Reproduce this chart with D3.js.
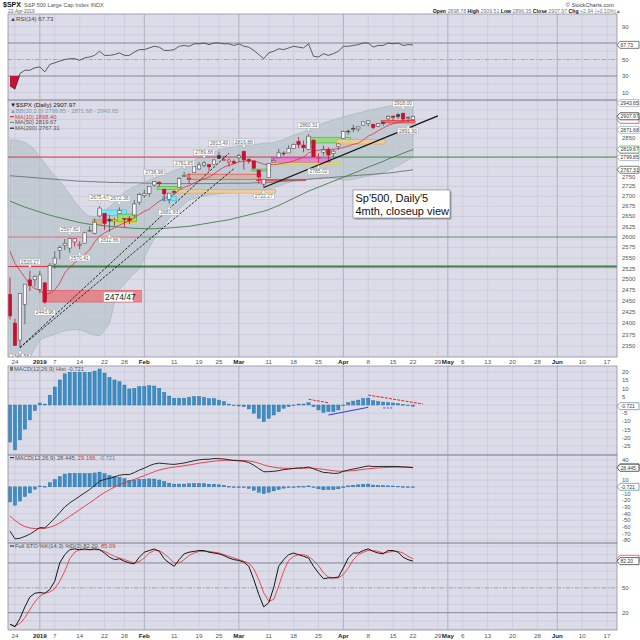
<!DOCTYPE html>
<html>
<head>
<meta charset="utf-8">
<title>$SPX daily</title>
<script src="https://cdn.jsdelivr.net/npm/d3@7"></script>
<style>
  body { margin: 0; background: #fff; }
  svg { display: block; font-family: "Liberation Sans", Arial, sans-serif; }
</style>
</head>
<body>
<svg id="chart"></svg>
<script>
// ---- data (trading days from 21-Dec-2018 to 22-Apr-2019) ----
var firstDay = "2018-12-21", lastDay = "2019-06-22";
var holidays = ["2018-12-25", "2019-01-01", "2019-01-21", "2019-02-18", "2019-04-19", "2019-05-27"];

var opens = [2465.38, 2400.56, 2363.12, 2442.50, 2498.77, 2498.94, 2476.96, 2491.92, 2474.33, 2535.61,
  2568.11, 2580.00, 2573.51, 2588.11, 2580.31, 2585.10, 2614.75, 2609.28, 2651.27, 2657.88,
  2643.48, 2638.84, 2657.44, 2644.97, 2644.89, 2653.62, 2685.49, 2702.32, 2706.49, 2728.34,
  2735.05, 2717.53, 2692.36, 2712.40, 2722.61, 2750.30, 2743.50, 2760.24, 2769.28, 2779.05,
  2780.24, 2780.67, 2804.35, 2792.36, 2787.50, 2788.11, 2798.22, 2814.37, 2794.41, 2790.27,
  2766.53, 2730.79, 2747.61, 2787.34, 2799.78, 2810.38, 2810.79, 2822.61, 2840.76, 2831.34,
  2819.72, 2844.52, 2796.01, 2812.66, 2819.72, 2809.40, 2828.27, 2848.63, 2868.24, 2876.09,
  2873.99, 2884.16, 2888.46, 2886.58, 2881.37, 2891.92, 2900.86, 2908.32, 2912.26, 2916.04,
  2904.81, 2898.78];
var highs = [2504.41, 2410.34, 2467.76, 2489.10, 2520.27, 2509.24, 2519.49, 2493.14, 2538.07, 2566.16,
  2579.82, 2595.32, 2597.82, 2596.27, 2589.32, 2613.08, 2625.76, 2645.06, 2675.47, 2657.88,
  2653.19, 2647.20, 2672.38, 2644.97, 2650.93, 2690.44, 2708.95, 2716.66, 2724.99, 2738.98,
  2738.08, 2719.32, 2708.07, 2718.05, 2748.19, 2761.85, 2757.90, 2775.66, 2787.33, 2789.88,
  2781.58, 2794.20, 2813.49, 2803.12, 2795.76, 2793.73, 2808.02, 2816.88, 2796.44, 2790.27,
  2766.53, 2744.13, 2784.00, 2798.32, 2821.24, 2815.00, 2830.73, 2835.41, 2852.42, 2843.54,
  2860.31, 2846.16, 2809.79, 2829.87, 2825.56, 2819.71, 2836.03, 2869.40, 2872.90, 2885.25,
  2881.28, 2893.24, 2895.95, 2886.88, 2889.71, 2893.42, 2910.54, 2909.60, 2916.06, 2918.00,
  2908.40, 2909.51];
var lows = [2408.55, 2351.10, 2346.58, 2397.94, 2472.89, 2482.82, 2467.47, 2443.96, 2474.33, 2524.56,
  2547.56, 2568.89, 2562.02, 2577.40, 2570.41, 2585.10, 2612.68, 2606.36, 2647.58, 2617.27,
  2612.86, 2627.01, 2657.33, 2624.06, 2631.05, 2648.34, 2678.65, 2696.88, 2698.75, 2724.03,
  2724.15, 2687.26, 2681.83, 2703.79, 2722.61, 2748.63, 2731.23, 2760.24, 2767.29, 2774.06,
  2764.55, 2779.11, 2794.99, 2789.47, 2775.13, 2782.51, 2787.38, 2767.66, 2782.97, 2768.69,
  2732.08, 2722.27, 2747.61, 2786.73, 2799.78, 2803.46, 2810.79, 2821.99, 2823.27, 2812.43,
  2817.38, 2800.47, 2785.02, 2803.99, 2787.72, 2798.77, 2819.23, 2848.63, 2858.75, 2865.17,
  2867.14, 2882.99, 2880.78, 2873.33, 2879.13, 2881.99, 2898.37, 2896.48, 2900.71, 2895.45,
  2891.90, 2896.35];
var closes = [2416.62, 2351.10, 2467.70, 2488.83, 2485.74, 2506.85, 2510.03, 2447.89, 2531.94, 2549.69,
  2574.41, 2584.96, 2596.64, 2596.26, 2582.61, 2610.30, 2616.10, 2635.96, 2670.71, 2632.90,
  2638.70, 2642.33, 2664.76, 2643.85, 2640.00, 2681.05, 2704.10, 2706.53, 2724.87, 2737.70,
  2731.61, 2706.05, 2707.88, 2709.80, 2744.73, 2753.03, 2745.73, 2775.60, 2779.76, 2784.70,
  2774.88, 2792.67, 2796.11, 2793.90, 2792.38, 2784.49, 2803.69, 2792.81, 2789.65, 2771.45,
  2748.93, 2743.07, 2783.30, 2791.52, 2810.92, 2808.48, 2822.48, 2832.94, 2832.57, 2824.23,
  2854.88, 2800.71, 2798.36, 2818.46, 2805.37, 2815.44, 2834.40, 2867.19, 2867.24, 2873.40,
  2879.39, 2892.74, 2895.77, 2878.20, 2888.21, 2888.32, 2907.41, 2905.58, 2907.06, 2900.45,
  2905.03, 2907.97];

var ma10 = [2565.9, 2537.3, 2520.3, 2504.1, 2487.6, 2478.3, 2474.7, 2464.9, 2467.4, 2475.6,
  2491.4, 2514.8, 2527.7, 2538.4, 2548.1, 2558.5, 2569.1, 2587.9, 2601.8, 2610.1,
  2616.5, 2622.3, 2629.1, 2633.8, 2639.6, 2646.6, 2655.4, 2662.5, 2667.9, 2678.4,
  2687.7, 2694.1, 2698.4, 2705.0, 2715.4, 2722.6, 2726.8, 2733.7, 2739.2, 2743.9,
  2748.2, 2756.9, 2765.7, 2774.1, 2778.9, 2782.0, 2787.8, 2789.5, 2790.5, 2789.2,
  2786.6, 2781.6, 2780.4, 2780.1, 2782.0, 2784.4, 2786.3, 2790.3, 2794.6, 2799.8,
  2810.4, 2816.2, 2817.7, 2820.4, 2819.8, 2820.5, 2821.7, 2825.2, 2828.6, 2833.5,
  2836.0, 2845.2, 2854.9, 2860.9, 2869.2, 2876.5, 2883.8, 2887.6, 2891.6, 2894.3,
  2896.9, 2898.4];
var ma50 = [2688, 2683, 2678, 2673, 2669, 2665, 2661, 2657, 2653, 2650,
  2647, 2644, 2641, 2638, 2635, 2633, 2631, 2630, 2629, 2627,
  2626, 2625, 2624, 2623, 2622, 2621, 2621, 2620, 2620, 2620,
  2621, 2621, 2622, 2623, 2624, 2625, 2626, 2628, 2630, 2632,
  2634, 2636, 2638, 2640, 2642, 2645, 2648, 2651, 2654, 2657,
  2660, 2663, 2667, 2672, 2677, 2683, 2689, 2695, 2701, 2707,
  2713, 2718, 2723, 2728, 2733, 2738, 2743, 2748, 2753, 2758,
  2763, 2769, 2774, 2779, 2784, 2789, 2795, 2800, 2805, 2810,
  2815, 2819.67];
var ma200 = [2752, 2751, 2750, 2749, 2748, 2747, 2746, 2745, 2744, 2743,
  2742, 2741, 2740, 2739, 2738, 2738, 2737, 2737, 2736, 2736,
  2735, 2735, 2735, 2734, 2734, 2734, 2734, 2733, 2733, 2733,
  2732, 2732, 2732, 2732, 2732, 2732, 2732, 2732, 2732, 2732,
  2732, 2732, 2732, 2733, 2733, 2733, 2733, 2733, 2733, 2734,
  2734, 2734, 2735, 2736, 2737, 2738, 2739, 2740, 2741, 2742,
  2743, 2744, 2745, 2746, 2747, 2748, 2749, 2750, 2751, 2752,
  2753, 2754, 2755, 2756, 2757, 2758, 2759, 2760, 2762, 2764,
  2765, 2767.31];
var bbUpper = [2845, 2845, 2842, 2838, 2830, 2818, 2800, 2785, 2767, 2752,
  2738, 2722, 2705, 2688, 2671, 2660, 2651, 2650, 2654, 2664,
  2673, 2686, 2698, 2710, 2718, 2724, 2730, 2736, 2742, 2746,
  2750, 2755, 2760, 2765, 2770, 2776, 2784, 2792, 2798, 2804,
  2809, 2813, 2818, 2822, 2824, 2826, 2828, 2830, 2831, 2833,
  2834, 2836, 2837, 2838, 2842, 2846, 2852, 2858, 2862, 2866,
  2874, 2880, 2885, 2890, 2894, 2898, 2902, 2906, 2910, 2914,
  2917, 2920, 2924, 2927, 2929, 2932, 2935, 2937, 2939, 2941,
  2942, 2943.65];
var bbLower = [2300, 2295, 2300, 2310, 2325, 2345, 2362, 2368, 2372, 2376,
  2380, 2383, 2385, 2386, 2385, 2382, 2378, 2374, 2373, 2385,
  2401, 2446, 2475, 2490, 2502, 2514, 2525, 2550, 2575, 2595,
  2612, 2630, 2645, 2658, 2670, 2680, 2690, 2694, 2698, 2701,
  2703, 2705, 2706, 2708, 2710, 2712, 2714, 2715, 2716, 2716,
  2716, 2716, 2718, 2722, 2726, 2731, 2735, 2738, 2740, 2742,
  2744, 2745, 2746, 2746, 2746, 2745, 2743, 2741, 2741, 2743,
  2746, 2749, 2752, 2754, 2756, 2760, 2766, 2772, 2778, 2785,
  2792, 2799.85];

var rsi = [18, 14, 33, 37, 37, 40, 41, 35, 44, 46,
  48, 50, 51, 51, 49, 52, 53, 55, 60, 55,
  55, 56, 58, 55, 55, 59, 62, 62, 64, 66,
  65, 61, 61, 62, 66, 67, 66, 69, 69, 70,
  68, 70, 70, 69, 69, 67, 69, 66, 65, 61,
  56, 51, 58, 60, 63, 62, 64, 66, 65, 64,
  69, 54, 53, 57, 55, 57, 60, 66, 66, 67,
  68, 70, 70, 65, 67, 67, 70, 69, 70, 67,
  68, 67.73];
var macdLine = [-66.0, -77.65, -76.9, -74.0, -70.65, -65.9, -60.9, -61.35, -54.45, -46.7,
  -38.6, -30.1, -24.1, -19.1, -14.1, -9.1, -4.1, 1.8, 8.6, 11.0,
  12.6, 14.8, 17.25, 18.3, 18.35, 21.3, 25.1, 27.9, 31.45, 34.15,
  35.3, 34.7, 33.9, 33.5, 34.5, 35.55, 37.3, 39.0, 40.3, 41.05,
  41.2, 42.2, 42.05, 41.55, 40.3, 39.3, 38.85, 38.2, 36.2, 32.35,
  27.2, 22.55, 22.6, 23.1, 24.1, 25.7, 26.45, 27.45, 28.2, 28.35,
  29.5, 26.85, 24.1, 21.5, 21.0, 20.0, 20.25, 23.25, 25.0, 26.6,
  27.95, 29.7, 31.15, 30.2, 30.35, 30.4, 30.45, 30.45, 30.25, 29.7,
  29.35, 28.445];
var macdSignal = [-43.4, -50.25, -55.6, -59.3, -61.55, -62.4, -62.1, -61.95, -60.45, -57.7,
  -53.9, -49.1, -44.1, -39.1, -34.1, -29.1, -24.1, -18.9, -13.4, -8.5,
  -4.3, -0.5, 3.05, 6.1, 8.55, 11.1, 13.9, 16.7, 19.65, 22.55,
  25.1, 27.0, 28.4, 29.4, 30.4, 31.45, 32.6, 33.9, 35.2, 36.35,
  37.3, 38.3, 39.05, 39.55, 39.7, 39.6, 39.45, 39.2, 38.6, 37.35,
  35.3, 32.75, 30.7, 29.2, 28.2, 27.7, 27.45, 27.45, 27.6, 27.75,
  28.1, 27.85, 27.1, 26.0, 25.0, 24.0, 23.25, 23.25, 23.6, 24.2,
  24.95, 25.9, 26.95, 27.6, 28.15, 28.6, 28.95, 29.25, 29.45, 29.4,
  29.35, 29.166];
var macdHist = [-22.6, -27.4, -21.3, -14.7, -9.1, -3.5, 1.2, 0.6, 6, 11,
  15.3, 19, 20, 20, 20, 20, 20, 20.7, 22, 19.5,
  16.9, 15.3, 14.2, 12.2, 9.8, 10.2, 11.2, 11.2, 11.8, 11.6,
  10.2, 7.7, 5.5, 4.1, 4.1, 4.1, 4.7, 5.1, 5.1, 4.7,
  3.9, 3.9, 3, 2, 0.6, -0.3, -0.6, -1, -2.4, -5,
  -8.1, -10.2, -8.1, -6.1, -4.1, -2, -1, 0, 0.6, 0.6,
  1.4, -1, -3, -4.5, -4, -4, -3, 0, 1.4, 2.4,
  3.0, 3.8, 4.2, 2.6, 2.2, 1.8, 1.5, 1.2, 0.8, 0.3,
  0, -0.721];
var stoK = [6, 3, 13, 27, 39, 43.5, 44.3, 43.5, 48, 58,
  80, 90, 96, 97, 96, 97, 96, 97, 96, 92,
  87, 84, 85, 82, 80, 79, 87, 93, 95, 97,
  94, 85, 80, 76, 84, 91, 93, 94, 95, 95,
  93, 92, 91, 89, 86, 84, 83, 81, 76, 60,
  42, 27, 32, 50, 76, 84, 90, 92, 90, 88,
  86, 76, 68, 61, 62, 62, 63, 74, 86, 92,
  92, 95, 97, 94, 92, 91, 95, 95, 93, 87,
  84, 82.2];
var stoD = [6, 4, 7, 14, 24, 33, 40, 43.5, 45, 49,
  58, 70, 85, 93, 96, 96, 96, 96, 96, 94,
  91, 88, 86, 84, 82, 80, 82, 86, 92, 95,
  95, 91, 86, 80, 80, 84, 89, 92, 94, 94,
  94, 93, 92, 90, 88, 86, 84, 82, 80, 73,
  60, 44, 34, 36, 52, 70, 83, 88, 90, 90,
  88, 83, 77, 68, 63, 62, 62, 66, 74, 84,
  90, 93, 95, 95, 94, 92, 93, 94, 94, 92,
  88, 85.09];

// annotations drawn on the price panel
var zones = [
  {from: "2019-01-03", to: "2019-01-31", hi: 2474.33, lo: 2447.89, kind: "gap"},
  {from: "2019-01-18", to: "2019-01-28", hi: 2666, lo: 2653, kind: "cyan"},
  {from: "2019-01-17", to: "2019-01-18", hi: 2643, lo: 2630, kind: "tan"},
  {from: "2019-01-24", to: "2019-01-30", hi: 2648, lo: 2635, kind: "yellow"},
  {from: "2019-01-25", to: "2019-01-30", hi: 2656, lo: 2638, kind: "green"},
  {from: "2019-02-06", to: "2019-02-12", hi: 2725, lo: 2717, kind: "green"},
  {from: "2019-02-07", to: "2019-02-11", hi: 2699, lo: 2689, kind: "cyan"},
  {from: "2019-02-11", to: "2019-03-12", hi: 2717, lo: 2708, kind: "orange"},
  {from: "2019-02-14", to: "2019-03-07", hi: 2756, lo: 2743, kind: "tanred"},
  {from: "2019-03-07", to: "2019-03-20", hi: 2743, lo: 2739, kind: "redline"},
  {from: "2019-03-06", to: "2019-03-11", hi: 2769, lo: 2764, kind: "green"},
  {from: "2019-03-12", to: "2019-03-27", hi: 2798, lo: 2786, kind: "magenta"},
  {from: "2019-03-12", to: "2019-03-29", hi: 2785, lo: 2782, kind: "yellow"},
  {from: "2019-03-21", to: "2019-04-02", hi: 2852, lo: 2837, kind: "green"},
  {from: "2019-03-29", to: "2019-04-11", hi: 2846, lo: 2834, kind: "orange"},
  {from: "2019-04-11", to: "2019-04-22", hi: 2897, lo: 2890, kind: "redline"}
];
var levels = [
  {price: 2800, from: null, to: "2019-03-25", kind: "red"},
  {price: 2800, from: "2019-03-25", to: null, kind: "green"},
  {price: 2600, from: "2019-01-31", to: null, kind: "greenThin"},
  {price: 2600, from: null, to: "2019-01-31", kind: "pink"},
  {price: 2530, from: "2019-01-04", to: null, kind: "greenThick"},
  {price: 2530, from: null, to: "2019-01-04", kind: "red"}
];
var trends = [
  {from: "2018-12-26", p0: 2346.58, to: "2019-02-27", p1: 2810, dashed: true},
  {from: "2018-12-26", p0: 2346.58, to: "2019-02-28", p1: 2770, dashed: true},
  {from: "2019-03-08", p0: 2722.27, to: "2019-04-29", p1: 2909, dashed: false}
];
var priceNotes = [
  {day: "2018-12-26", value: 2346.58, side: "below"},
  {day: "2018-12-28", value: 2520.27, side: "above"},
  {day: "2019-01-03", value: 2443.96, side: "below"},
  {day: "2019-01-10", value: 2597.82, side: "above"},
  {day: "2019-01-14", value: 2570.41, side: "below"},
  {day: "2019-01-18", value: 2675.47, side: "above"},
  {day: "2019-01-23", value: 2612.86, side: "below"},
  {day: "2019-01-25", value: 2672.38, side: "above"},
  {day: "2019-02-05", value: 2738.98, side: "above"},
  {day: "2019-02-08", value: 2681.83, side: "below"},
  {day: "2019-02-13", value: 2761.85, side: "above"},
  {day: "2019-02-20", value: 2789.88, side: "above"},
  {day: "2019-02-25", value: 2813.49, side: "above"},
  {day: "2019-03-04", value: 2816.88, side: "above"},
  {day: "2019-03-08", value: 2722.27, side: "below"},
  {day: "2019-03-21", value: 2860.31, side: "above"},
  {day: "2019-03-25", value: 2785.02, side: "below"},
  {day: "2019-04-17", value: 2918.00, side: "above"},
  {day: "2019-04-18", value: 2891.90, side: "below"}
];
var histLines = [
  {from: "2019-03-21", v0: 3.5, to: "2019-03-27", v1: 1.4, kind: "red"},
  {from: "2019-04-08", v0: 6.1, to: "2019-04-24", v1: 0.6, kind: "red"},
  {from: "2019-03-27", v0: -6.1, to: "2019-04-08", v1: -1.4, kind: "blue"},
  {from: "2019-04-11", v0: -1.8, to: "2019-04-15", v1: -1.8, kind: "blueDash"}
];

// last values shown in boxes on the right axes
var rsiTags = [{v: 67.73, txt: "67.73", c: "#444"}];
var priceTags = [
  {v: 2943.65, txt: "2943.65", c: "#8ea2b2"}, {v: 2871.68, txt: "2871.68", c: "#8ea2b2"},
  {v: 2799.85, txt: "2799.85", c: "#8ea2b2"}, {v: 2767.31, txt: "2767.31", c: "#444"},
  {v: 2819.67, txt: "2819.67", c: "#4f8f58"}, {v: 2898.40, txt: "", c: "#e0303a"},
  {v: 2907.97, txt: "2907.97", c: "#111"}
];
var histTags = [{v: -0.721, txt: "-0.721", c: "#5a7fa8"}];
var macdTags = [{v: 29.166, txt: "", c: "#e0303a"}, {v: 28.445, txt: "28.445", c: "#222"}, {v: 0, txt: "-0.721", c: "#5a7fa8"}];
var stoTags = [{v: 85.09, txt: "", c: "#e0303a"}, {v: 82.20, txt: "82.20", c: "#222"}];

// ---- layout ----
var L = 8, R = 617, BG = "#dcdce9";
var svg = d3.select("#chart").attr("width", 640).attr("height", 640);

var parse = d3.utcParse("%Y-%m-%d"), iso = d3.utcFormat("%Y-%m-%d");
var days = d3.utcDay.range(parse(firstDay), parse(lastDay))
  .filter(function(d) { return d.getUTCDay() !== 0 && d.getUTCDay() !== 6 && holidays.indexOf(iso(d)) < 0; });
function di(s) { return days.findIndex(function(d) { return iso(d) === s; }); }

var x = d3.scaleLinear().domain([-0.4, 122]).range([L, R]);

var P = {
  rsi:   {top: 14,  bot: 100},
  price: {top: 100, bot: 357},
  hist:  {top: 366, bot: 455},
  macd:  {top: 455, bot: 543},
  sto:   {top: 543, bot: 630}
};
var yR = d3.scaleLinear().domain([0, 100]).range([100.75, 18.25]);
var yP = d3.scaleLog().domain([2326.3, 2952.2]).range([357, 100]);
var yH = d3.scaleLinear().domain([-30.5, 23.8]).range([455, 366]);
var yM = d3.scaleLinear().domain([-83.9, 47.5]).range([543, 455]);
var yS = d3.scaleLinear().domain([-0.9, 104.1]).range([630, 543]);

// date ticks: month starts and week starts
var ticks = [];
days.forEach(function(d, i) {
  if (i > 0 && d.getUTCMonth() !== days[i - 1].getUTCMonth())
    ticks.push({i: i, month: true, label: d.getUTCMonth() === 0 ? d3.utcFormat("%Y")(d) : d3.utcFormat("%b")(d)});
});
var monthIdx = ticks.map(function(t) { return t.i; });
days.forEach(function(d, i) {
  if (i === 0) return;
  if (+d3.utcMonday.floor(d) !== +d3.utcMonday.floor(days[i - 1]) &&
      !monthIdx.some(function(m) { return Math.abs(m - i) <= 1; }))
    ticks.push({i: i, month: false, label: d3.utcFormat("%-d")(d)});
});
ticks = ticks.filter(function(t) { return x(t.i) < R - 1; });

var defs = svg.append("defs");
var layer = {};
Object.keys(P).forEach(function(k) {
  var p = P[k];
  defs.append("clipPath").attr("id", "clip-" + k).append("rect")
    .attr("x", L).attr("y", p.top).attr("width", R - L).attr("height", p.bot - p.top);
  svg.append("rect").attr("x", L).attr("y", p.top).attr("width", R - L).attr("height", p.bot - p.top).attr("fill", BG);
  layer[k] = svg.append("g").attr("clip-path", "url(#clip-" + k + ")");
  layer[k].append("g").selectAll("line").data(ticks).join("line")
    .attr("x1", function(t) { return x(t.i); }).attr("x2", function(t) { return x(t.i); })
    .attr("y1", p.top).attr("y2", p.bot)
    .attr("stroke", function(t) { return t.month ? "#a9a9bb" : "#c5c5d5"; })
    .attr("stroke-width", function(t) { return t.month ? 0.9 : 0.6; });
});

function hgrid(g, scale, vals, color, width, dash) {
  g.append("g").selectAll("line").data(vals).join("line")
    .attr("x1", L).attr("x2", R)
    .attr("y1", function(v) { return scale(v); }).attr("y2", function(v) { return scale(v); })
    .attr("stroke", color).attr("stroke-width", width).attr("stroke-dasharray", dash || null);
}
hgrid(layer.rsi, yR, d3.range(10, 100, 10), "#c5c5d5", 0.6);
hgrid(layer.rsi, yR, [30, 70], "#8c8c9c", 1);
hgrid(layer.rsi, yR, [50], "#9a9aaa", 0.8, "4,2,1,2");
hgrid(layer.price, yP, d3.range(2350, 2951, 25), "#c5c5d5", 0.6);
hgrid(layer.hist, yH, d3.range(-30, 21, 5), "#c5c5d5", 0.6);
hgrid(layer.macd, yM, d3.range(-80, 41, 10), "#c5c5d5", 0.6);
hgrid(layer.sto, yS, d3.range(0, 101, 10), "#c5c5d5", 0.6);
hgrid(layer.sto, yS, [20, 80], "#8c8c9c", 1);
hgrid(layer.sto, yS, [50], "#9a9aaa", 0.8, "4,2,1,2");

var idx = closes.map(function(c, i) { return i; });

// ---- RSI ----
layer.rsi.append("path").datum(idx)
  .attr("d", d3.area().x(function(i) { return x(i); }).y0(yR(30)).y1(function(i) { return yR(Math.min(rsi[i], 30)); }))
  .attr("fill", "#c4143a");
layer.rsi.append("path").datum(idx)
  .attr("d", d3.line().x(function(i) { return x(i); }).y(function(i) { return yR(rsi[i]); }))
  .attr("fill", "none").attr("stroke", "#3a3a3a").attr("stroke-width", 0.8);

// ---- price panel ----
var gP = layer.price;
gP.append("path").datum(idx)
  .attr("d", d3.area().x(function(i) { return x(i); }).y0(function(i) { return yP(bbLower[i]); }).y1(function(i) { return yP(bbUpper[i]); }).curve(d3.curveMonotoneX))
  .attr("fill", "#b9c5ca").attr("fill-opacity", 0.72).attr("stroke", "#a3b0b6").attr("stroke-width", 0.6);

var levelStyle = {red: ["#e8303a", 1], pink: ["#e86a78", 1], green: ["#3f8f3f", 1], greenThin: ["#5f8f6a", 0.9], greenThick: ["#3d7d45", 2]};
gP.append("g").selectAll("line").data(levels).join("line")
  .attr("x1", function(d) { return d.from ? x(di(d.from)) : L; })
  .attr("x2", function(d) { return d.to ? x(di(d.to)) : R; })
  .attr("y1", function(d) { return yP(d.price); }).attr("y2", function(d) { return yP(d.price); })
  .attr("stroke", function(d) { return levelStyle[d.kind][0]; })
  .attr("stroke-width", function(d) { return levelStyle[d.kind][1]; });

var zoneStyle = {
  gap: ["#e77b80", "#f04a55", 0.85], cyan: ["#7fe4f4", "#28c2dc", 0.9], tan: ["#d6ae80", "#e8902a", 0.9],
  yellow: ["#f2ee50", "#d5cc00", 0.9], green: ["#8ee06e", "#36b43a", 0.85], orange: ["#f1cc96", "#f0a030", 0.85],
  tanred: ["#d3b49e", "#ee3333", 0.85], redline: ["#f26a6a", "#e52a2a", 0.9], magenta: ["#e67be6", "#c23cc2", 0.9]
};
gP.append("g").selectAll("rect").data(zones).join("rect")
  .attr("x", function(d) { return x(di(d.from)) - 2; })
  .attr("width", function(d) { return x(di(d.to)) - x(di(d.from)) + 4; })
  .attr("y", function(d) { return yP(d.hi); })
  .attr("height", function(d) { return Math.max(1.2, yP(d.lo) - yP(d.hi)); })
  .attr("fill", function(d) { return zoneStyle[d.kind][0]; })
  .attr("fill-opacity", function(d) { return zoneStyle[d.kind][2]; })
  .attr("stroke", function(d) { return zoneStyle[d.kind][1]; }).attr("stroke-width", 0.6);

function maLine(arr, color, w) {
  gP.append("path").datum(idx)
    .attr("d", d3.line().x(function(i) { return x(i); }).y(function(i) { return yP(arr[i]); }))
    .attr("fill", "none").attr("stroke", color).attr("stroke-width", w);
}
maLine(ma200, "#6e6e78", 0.9);
maLine(ma50, "#3f7f48", 0.9);
maLine(ma10, "#d8323c", 0.8);

var bars = idx.map(function(i) {
  return {i: i, o: opens[i], h: highs[i], l: lows[i], c: closes[i], up: i === 0 ? closes[i] >= opens[i] : closes[i] >= closes[i - 1]};
});
gP.append("g").selectAll("line").data(bars).join("line")
  .attr("x1", function(d) { return x(d.i); }).attr("x2", function(d) { return x(d.i); })
  .attr("y1", function(d) { return yP(d.h); }).attr("y2", function(d) { return yP(d.l); })
  .attr("stroke", function(d) { return d.up ? "#505050" : "#c8102e"; }).attr("stroke-width", 0.8);
gP.append("g").selectAll("rect").data(bars).join("rect")
  .attr("x", function(d) { return x(d.i) - 1.7; }).attr("width", 3.4)
  .attr("y", function(d) { return yP(Math.max(d.o, d.c)); })
  .attr("height", function(d) { return Math.max(0.8, Math.abs(yP(d.o) - yP(d.c))); })
  .attr("fill", function(d) { return d.c < d.o ? (d.up ? "#333" : "#c8102e") : "#f6f6fa"; })
  .attr("stroke", function(d) { return d.up ? "#505050" : "#c8102e"; }).attr("stroke-width", 0.6);

gP.append("g").selectAll("line").data(trends).join("line")
  .attr("x1", function(d) { return x(di(d.from)); }).attr("y1", function(d) { return yP(d.p0); })
  .attr("x2", function(d) { return x(di(d.to)); }).attr("y2", function(d) { return yP(d.p1); })
  .attr("stroke", "#111").attr("stroke-width", function(d) { return d.dashed ? 0.9 : 1.2; })
  .attr("stroke-dasharray", function(d) { return d.dashed ? "2.5,1.5" : null; });

var notes = gP.append("g").selectAll("g").data(priceNotes).join("g")
  .attr("transform", function(d) { return "translate(" + x(di(d.day)) + "," + yP(d.value) + ")"; });
notes.append("path")
  .attr("d", function(d) { return d.side === "above" ? "M-2,-6 L2,-6 L0,-2 Z" : "M-2,6 L2,6 L0,2 Z"; })
  .attr("fill", "#fff").attr("stroke", "#999").attr("stroke-width", 0.5);
notes.append("rect")
  .attr("x", -10.5).attr("width", 21).attr("height", 5.8)
  .attr("y", function(d) { return d.side === "above" ? -11.6 : 5.8; })
  .attr("fill", "#fff").attr("stroke", "#aaa").attr("stroke-width", 0.5);
notes.append("text")
  .attr("text-anchor", "middle").attr("font-size", 5).attr("fill", "#666")
  .attr("y", function(d) { return d.side === "above" ? -7.1 : 10.3; })
  .text(function(d) { return d.value.toFixed(2); });

// gap label
var gapZone = zones[0];
gP.append("rect").attr("x", x(di("2019-01-23")) - 6).attr("y", yP(gapZone.hi) + 1.5).attr("width", 30).attr("height", 10)
  .attr("fill", "#fff").attr("stroke", "#999").attr("stroke-width", 0.6);
gP.append("text").attr("x", x(di("2019-01-23")) - 4.5).attr("y", yP(gapZone.hi) + 9.6)
  .attr("font-size", 8.5).attr("fill", "#222").text("2474/47");

// comment box
var bx = 353, by = 190;
svg.append("rect").attr("x", bx + 1.5).attr("y", by + 1.5).attr("width", 97).attr("height", 28).attr("fill", "#9a9aa6");
svg.append("rect").attr("x", bx).attr("y", by).attr("width", 97).attr("height", 28).attr("fill", "#fff").attr("stroke", "#777").attr("stroke-width", 0.6);
svg.append("text").attr("x", bx + 2.5).attr("y", by + 11.5).attr("font-size", 11).attr("fill", "#111").text("Sp'500, Daily'5");
svg.append("text").attr("x", bx + 2.5).attr("y", by + 24.5).attr("font-size", 11).attr("fill", "#111").text("4mth, closeup view");

// ---- MACD histogram panel ----
layer.hist.append("g").selectAll("rect").data(idx).join("rect")
  .attr("x", function(i) { return x(i) - 1.6; }).attr("width", 3.2)
  .attr("y", function(i) { return Math.min(yH(0), yH(macdHist[i])); })
  .attr("height", function(i) { return Math.max(0.7, Math.abs(yH(macdHist[i]) - yH(0))); })
  .attr("fill", "#3b8fc6").attr("stroke", "#22689c").attr("stroke-width", 0.4);
var hlStyle = {red: ["#e8202a", "3,1.2"], blue: ["#2c3ee0", null], blueDash: ["#3a4ce0", "2,1.5"]};
layer.hist.append("g").selectAll("line").data(histLines).join("line")
  .attr("x1", function(d) { return x(di(d.from)); }).attr("y1", function(d) { return yH(d.v0); })
  .attr("x2", function(d) { return x(di(d.to)); }).attr("y2", function(d) { return yH(d.v1); })
  .attr("stroke", function(d) { return hlStyle[d.kind][0]; })
  .attr("stroke-dasharray", function(d) { return hlStyle[d.kind][1]; })
  .attr("stroke-width", 1);

// ---- MACD panel ----
layer.macd.append("g").selectAll("rect").data(idx).join("rect")
  .attr("x", function(i) { return x(i) - 1.6; }).attr("width", 3.2)
  .attr("y", function(i) { return Math.min(yM(0), yM(macdHist[i])); })
  .attr("height", function(i) { return Math.max(0.7, Math.abs(yM(macdHist[i]) - yM(0))); })
  .attr("fill", "#3b8fc6").attr("stroke", "#22689c").attr("stroke-width", 0.4);
layer.macd.append("path").datum(idx)
  .attr("d", d3.line().x(function(i) { return x(i); }).y(function(i) { return yM(macdSignal[i]); }))
  .attr("fill", "none").attr("stroke", "#e8333c").attr("stroke-width", 0.9);
layer.macd.append("path").datum(idx)
  .attr("d", d3.line().x(function(i) { return x(i); }).y(function(i) { return yM(macdLine[i]); }))
  .attr("fill", "none").attr("stroke", "#151515").attr("stroke-width", 0.9);

// ---- Full stochastics ----
layer.sto.append("path").datum(idx)
  .attr("d", d3.line().x(function(i) { return x(i); }).y(function(i) { return yS(stoD[i]); }))
  .attr("fill", "none").attr("stroke", "#ee3a3a").attr("stroke-width", 0.9);
layer.sto.append("path").datum(idx)
  .attr("d", d3.line().x(function(i) { return x(i); }).y(function(i) { return yS(stoK[i]); }))
  .attr("fill", "none").attr("stroke", "#151515").attr("stroke-width", 1);

// ---- panel borders ----
Object.keys(P).forEach(function(k) {
  var p = P[k];
  svg.append("rect").attr("x", L).attr("y", p.top).attr("width", R - L).attr("height", p.bot - p.top)
    .attr("fill", "none").attr("stroke", "#8f8f9f").attr("stroke-width", 0.8);
});

// ---- right axes: tick labels (skipping those hidden under value boxes) and value boxes ----
function rightAxis(scale, vals, tags) {
  var tagY = tags.map(function(t) { return scale(t.v); });
  var shown = vals.filter(function(v) {
    return tagY.every(function(ty) { return Math.abs(scale(v) - ty) > 6.5; });
  });
  svg.append("g").selectAll("text").data(shown).join("text")
    .attr("x", 622).attr("y", function(v) { return scale(v) + 2; })
    .attr("font-size", 6).attr("fill", "#555").text(function(v) { return v; });
  tags.forEach(function(t) {
    var y = scale(t.v);
    var g = svg.append("g");
    g.append("path")
      .attr("d", "M617," + y + " L620," + (y - 3.5) + " L639," + (y - 3.5) + " L639," + (y + 3.5) + " L620," + (y + 3.5) + " Z")
      .attr("fill", "#fff").attr("stroke", t.c).attr("stroke-width", 0.7);
    if (t.txt) g.append("text").attr("x", 620.6).attr("y", y + 1.9).attr("font-size", 5)
      .attr("fill", "#333").text(t.txt);
  });
}
rightAxis(yR, [10, 30, 50, 70, 90], rsiTags);
rightAxis(yP, d3.range(2350, 2926, 25), priceTags);
rightAxis(yH, [-25, -20, -15, -10, -5, 5, 10, 15, 20], histTags);
rightAxis(yM, [-80, -70, -60, -50, -40, -30, -20, -10, 10, 20, 30, 40], macdTags);
rightAxis(yS, [20, 50, 80], stoTags);

// ---- date labels ----
function dateLabels(yy) {
  svg.append("g").selectAll("text").data(ticks).join("text")
    .attr("x", function(t) { return x(t.i); }).attr("y", yy)
    .attr("text-anchor", "middle").attr("font-size", 6.2)
    .attr("font-weight", function(t) { return t.month ? "bold" : "normal"; })
    .attr("fill", function(t) { return t.month ? "#222" : "#555"; })
    .text(function(t) { return t.label; });
}
dateLabels(363.8);
dateLabels(637.5);

// ---- legends ----
function legendLine(y, color) {
  svg.append("line").attr("x1", 10).attr("x2", 14).attr("y1", y - 2).attr("y2", y - 2).attr("stroke", color).attr("stroke-width", 1.2);
}
svg.append("text").attr("x", 10).attr("y", 20.5).attr("font-size", 6).attr("fill", "#444").text("\u25B2RSI(14) 67.73");
svg.append("text").attr("x", 10).attr("y", 106.8).attr("font-size", 6.2).attr("fill", "#222").text("\u25BC$SPX (Daily) 2907.97");
svg.append("text").attr("x", 10).attr("y", 112.6).attr("font-size", 5.8).attr("fill", "#7c9aae").text("\u25B2BB(20,2.0) 2799.85 - 2871.68 - 2943.65");
legendLine(118.6, "#d8323c");
svg.append("text").attr("x", 15).attr("y", 118.6).attr("font-size", 5.8).attr("fill", "#c4444c").text("MA(10) 2898.40");
legendLine(124.4, "#6f8f72");
svg.append("text").attr("x", 15).attr("y", 124.4).attr("font-size", 5.8).attr("fill", "#555").text("MA(50) 2819.67");
legendLine(130.2, "#222");
svg.append("text").attr("x", 15).attr("y", 130.2).attr("font-size", 5.8).attr("fill", "#555").text("MA(200) 2767.31");

svg.append("rect").attr("x", 10).attr("y", 366.8).attr("width", 3).attr("height", 4).attr("fill", "#777");
svg.append("text").attr("x", 14).attr("y", 370.8).attr("font-size", 5.8).attr("fill", "#555").text("MACD(12,26,9) Hist -0.721");
legendLine(459.6, "#333");
var tm = svg.append("text").attr("x", 15).attr("y", 459.6).attr("font-size", 5.8).attr("fill", "#555");
tm.append("tspan").text("MACD(12,26,9) 28.445, ");
tm.append("tspan").attr("fill", "#e0303a").text("29.166, ");
tm.append("tspan").attr("fill", "#5a7fa8").text("-0.721");
legendLine(548, "#333");
var ts = svg.append("text").attr("x", 15).attr("y", 548).attr("font-size", 5.8).attr("fill", "#555");
ts.append("tspan").text("Full STO %K(14,3) %D(3) 82.20, ");
ts.append("tspan").attr("fill", "#e0303a").text("85.09");

// ---- header ----
svg.append("text").attr("x", 3).attr("y", 6.8).attr("font-size", 7).attr("font-weight", "bold").attr("fill", "#111").text("$SPX");
svg.append("text").attr("x", 24).attr("y", 6.8).attr("font-size", 5.6).attr("fill", "#555").text("S&P 500 Large Cap Index  INDX");
svg.append("text").attr("x", 614).attr("y", 6.8).attr("text-anchor", "end").attr("font-size", 5.6).attr("fill", "#444").text("\u00A9 StockCharts.com");
svg.append("text").attr("x", 8).attr("y", 13.2).attr("font-size", 4.8).attr("fill", "#666").text("22-Apr-2019");
var h2 = svg.append("text").attr("x", 621).attr("y", 13.2).attr("text-anchor", "end").attr("font-size", 5.2).attr("fill", "#777");
[["Open", "2898.78"], ["High", "2909.51"], ["Low", "2896.35"], ["Close", "2907.97"]].forEach(function(p) {
  h2.append("tspan").attr("font-weight", "bold").attr("fill", "#111").text(p[0] + " ");
  h2.append("tspan").text(p[1] + " ");
});
h2.append("tspan").attr("font-weight", "bold").attr("fill", "#111").text("Chg ");
h2.append("tspan").text("+2.94 (+0.10%)\u25B2");
</script>
</body>
</html>
